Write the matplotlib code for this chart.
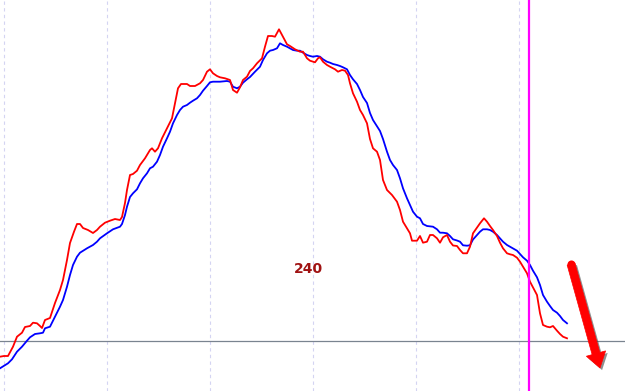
import matplotlib
matplotlib.use("Agg")
import matplotlib.pyplot as plt
import matplotlib.patheffects as pe

H = 391
# red (fast) line: bar position, level (pixel rows from top)
red_x = [0, 4, 8, 13, 17, 22, 25, 30, 33, 37,
         40, 42, 45, 50, 55, 60, 63, 67, 70, 74,
         77, 80, 83, 88, 93, 97, 100, 105, 110, 115,
         120, 122, 125, 127, 130, 133, 137, 140, 145, 150,
         152, 155, 158, 162, 167, 172, 175, 178, 181, 187,
         190, 195, 200, 203, 207, 210, 213, 217, 220, 225,
         230, 233, 237, 240, 243, 247, 250, 253, 257, 262,
         265, 268, 272, 275, 279, 283, 287, 290, 295, 300,
         303, 307, 310, 315, 318, 320, 323, 327, 330, 335,
         338, 342, 345, 348, 350, 353, 357, 360, 363, 367,
         370, 373, 377, 380, 383, 387, 392, 397, 400, 403,
         407, 410, 412, 417, 420, 423, 427, 430, 433, 437,
         440, 443, 447, 450, 453, 457, 460, 463, 467, 470,
         473, 477, 480, 484, 487, 490, 493, 497, 500, 503,
         507, 510, 513, 517, 520, 523, 527, 530, 533, 537,
         540, 543, 547, 550, 553, 557, 560, 563, 567]
red_px = [356.7, 356, 356, 346.7, 336.7, 332.7, 327, 326, 322.7, 323.3,
          326, 328, 320, 318, 303, 290, 280, 260, 243, 231.7,
          224, 224, 228, 230, 233, 230, 226.7, 222.7, 220.7, 219,
          220, 217, 203, 190, 175, 174, 170.7, 165, 158.3, 150,
          148.3, 151.7, 148.3, 138.3, 128.3, 118.3, 103.3, 88.3, 84, 84,
          86, 86, 83.3, 80, 71.7, 69.3, 73.3, 76, 77.3, 78.3,
          80, 90, 92.7, 87.3, 80, 76.7, 71, 68.3, 63.3, 58.3,
          46.7, 36, 36, 36.7, 29.3, 36.7, 44.3, 46, 49.3, 51.7,
          51.7, 58.3, 60.7, 62.3, 58.3, 57.3, 61.7, 65, 66.7, 69.3,
          71.7, 70, 70.7, 75, 83.3, 93.3, 101.7, 110, 115, 123.3,
          139, 148.3, 151.7, 160, 180, 190, 195, 201.7, 210, 221.7,
          228.3, 233.3, 240.7, 240.7, 236, 242.7, 241.7, 235, 235, 238.3,
          242.7, 237.3, 235, 241.7, 245.5, 246, 250, 253.3, 253.3, 246.7,
          233.3, 227.5, 223.3, 218.3, 221.7, 226, 230, 236, 242.7, 248.3,
          253.3, 254.3, 255, 257.7, 261.7, 266.7, 273.3, 281.7, 287.3, 295,
          313.3, 325, 326.7, 327.3, 326, 330.7, 334, 336.7, 338.3]

# blue (slow) line
blue_x = [0, 8, 12, 17, 22, 27, 30, 35, 40, 43,
          45, 50, 55, 60, 63, 67, 70, 73, 77, 80,
          87, 93, 97, 100, 107, 113, 120, 122, 125, 127,
          130, 133, 137, 140, 143, 147, 150, 153, 157, 160,
          163, 167, 170, 173, 177, 180, 183, 187, 190, 193,
          197, 200, 203, 207, 210, 213, 220, 227, 230, 233,
          237, 240, 243, 247, 250, 255, 260, 263, 267, 270,
          273, 277, 280, 283, 287, 290, 293, 297, 300, 303,
          307, 310, 313, 317, 320, 323, 327, 330, 333, 337,
          340, 343, 347, 350, 353, 357, 360, 363, 367, 370,
          373, 377, 380, 383, 387, 390, 393, 397, 400, 403,
          407, 410, 413, 417, 420, 423, 427, 433, 437, 440,
          443, 447, 450, 453, 457, 460, 463, 467, 470, 473,
          477, 480, 483, 487, 490, 493, 497, 500, 503, 507,
          510, 513, 517, 520, 523, 527, 530, 533, 537, 540,
          543, 547, 550, 553, 557, 560, 563, 567]
blue_px = [368.3, 363.3, 359.3, 351.7, 346.7, 340.7, 337.3, 334, 333.3, 332.7,
           328.3, 326.7, 316.7, 306.7, 300, 286.7, 275, 265, 256.7, 252.7,
           248.3, 245, 241.7, 238.3, 233.3, 229.3, 226.7, 224, 215, 206.7,
           197, 193.3, 189.3, 183.3, 178.3, 173.3, 168.3, 166.7, 161.7, 155,
           146.7, 138.3, 131.7, 123.3, 115, 110, 106.7, 105, 102.7, 100.7,
           98.3, 95, 90.7, 86, 82.3, 81.7, 81.7, 81, 81.7, 86.7,
           88.3, 86.7, 82.7, 79.3, 77, 71.7, 66.7, 60, 53.3, 50.7,
           50, 48.3, 43.3, 45, 46.7, 48.3, 50, 50.7, 50.7, 52.7,
           55, 56, 56.7, 56, 56.7, 59.3, 61.7, 62.7, 64, 65,
           66, 67.3, 69.3, 75, 79.3, 84, 90, 97, 103, 113,
           120, 126.2, 131, 139, 151.7, 160, 165, 170, 178.3, 188.3,
           198.3, 205, 211.7, 216.7, 218.3, 224, 226, 226.7, 229.3, 232.7,
           232.7, 233.3, 236, 239.3, 240.5, 241.7, 245.3, 245.7, 245.3, 239.5,
           235, 231.7, 229.3, 229.3, 230, 231.7, 235, 238.3, 241.7, 245,
           246.7, 248.3, 250.7, 254, 257.3, 260.7, 265, 270.7, 277.3, 285,
           295, 301.7, 306, 310, 312.7, 316, 320, 323.3]

red_vals = [H - v for v in red_px]
blue_vals = [H - v for v in blue_px]

grid_x = [4, 107, 210, 313, 416, 519]
base_level = H - 341.3
marker_x = 528.5
label_text = "240"
label_pos = (308, H - 269)
arrow_from = (571, H - 264)
arrow_to = (600, H - 368)

fig = plt.figure(figsize=(6.25, 3.91), dpi=100)
ax = fig.add_axes([0, 0, 1, 1])
ax.set_xlim(0, 625)
ax.set_ylim(0, H)
ax.axis("off")
fig.patch.set_facecolor("white")

for gx in grid_x:
    ax.axvline(gx, color="#d4d4f2", lw=0.8, ls=(0, (3, 3)), zorder=1)
ax.axhline(base_level, color="#7a8490", lw=0.9, zorder=2)
ax.axvline(marker_x, color="#ff00ff", lw=1.6, zorder=4)

ax.plot(blue_x, blue_vals, color="#0000ff", lw=1.3, zorder=3)
ax.plot(red_x, red_vals, color="#ff0000", lw=1.3, zorder=3)

ax.text(label_pos[0], label_pos[1], label_text, color="#a01212", fontsize=10,
        fontweight="bold", ha="center", va="center", family="DejaVu Sans")

shadow = [pe.SimplePatchShadow(offset=(1.5, -1.5), shadow_rgbFace="#333333", alpha=0.55), pe.Normal()]
ax.arrow(arrow_from[0], arrow_from[1], arrow_to[0] - arrow_from[0], arrow_to[1] - arrow_from[1],
         width=8, head_width=20, head_length=15, length_includes_head=True,
         fc="#ff0000", ec="#ff0000", lw=0.5, zorder=5, path_effects=shadow)
ax.plot([arrow_from[0]], [arrow_from[1]], marker="o", ms=5.8, color="#ff0000", mec="none", zorder=5)

fig.savefig("out.png", dpi=100, facecolor="white")
